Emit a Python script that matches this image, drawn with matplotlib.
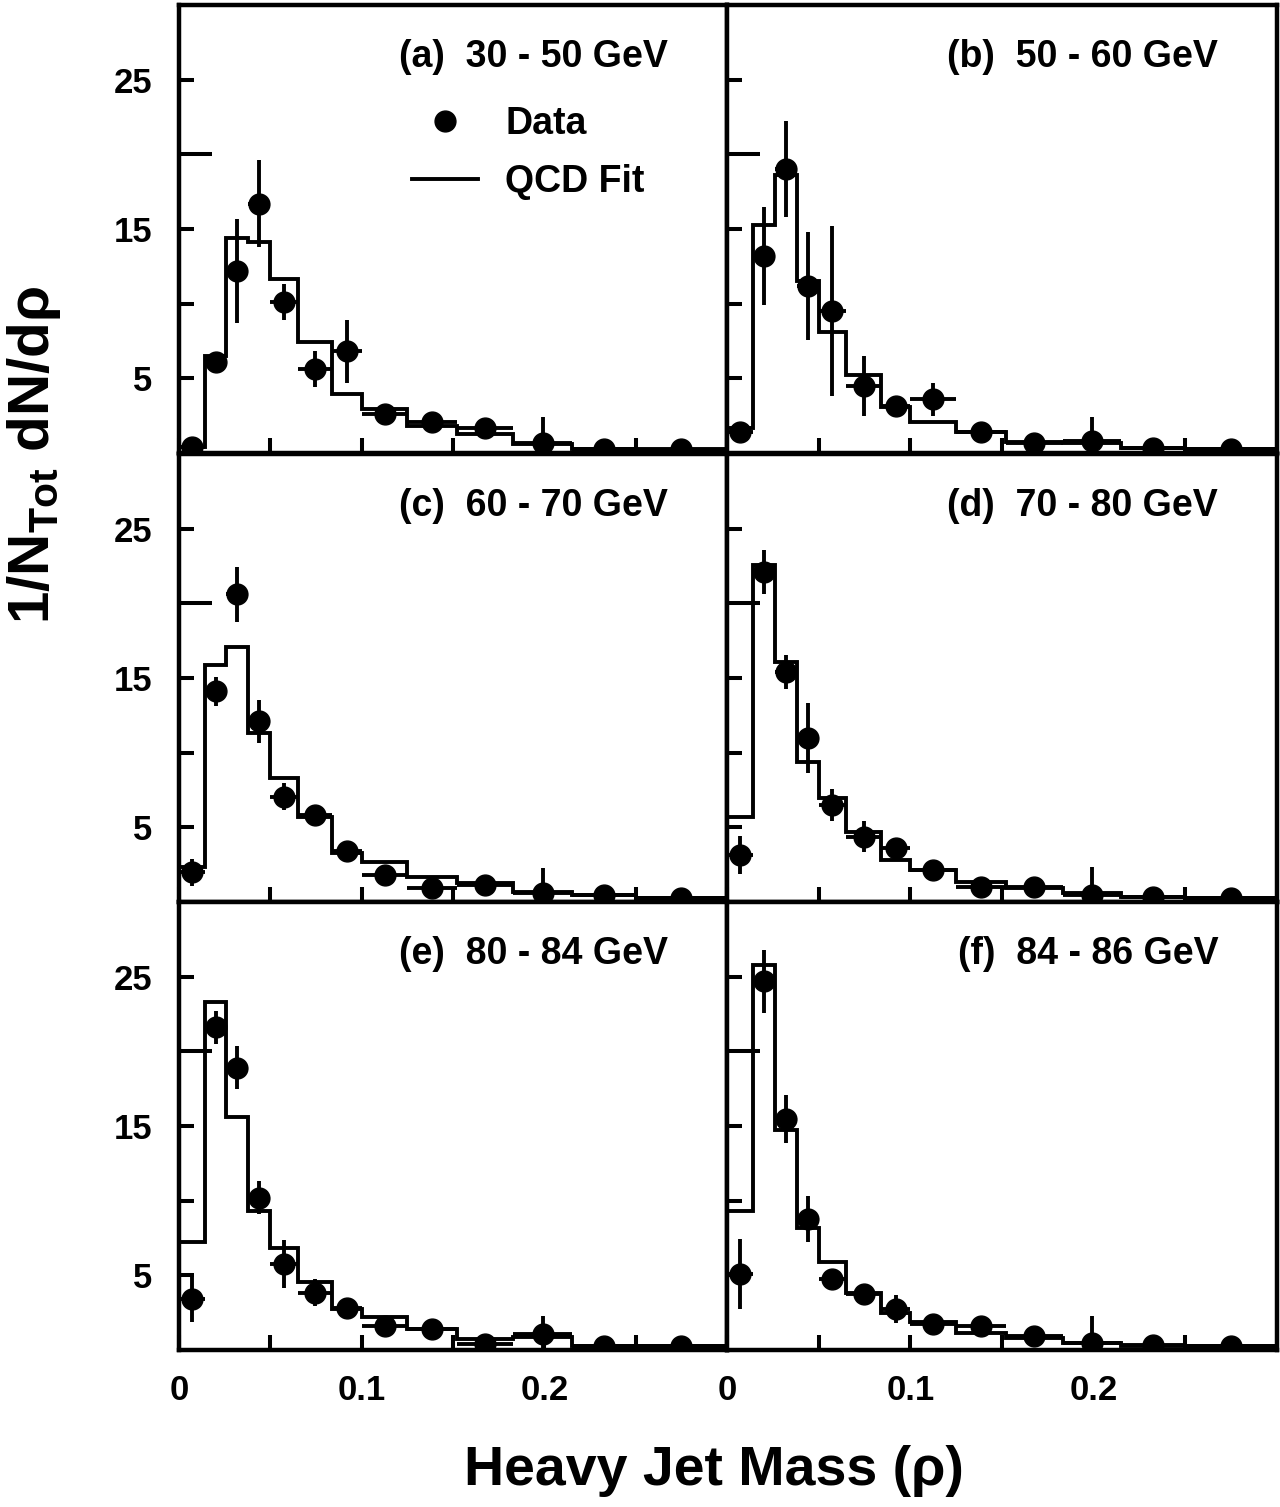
import numpy as np
import matplotlib
matplotlib.use("Agg")
import matplotlib.pyplot as plt
from matplotlib.lines import Line2D

plt.rcParams["font.family"] = ["Liberation Sans", "DejaVu Sans"]
plt.rcParams["font.weight"] = "bold"
plt.rcParams["mathtext.fontset"] = "custom"
plt.rcParams["mathtext.rm"] = "Liberation Sans:bold"
plt.rcParams["mathtext.bf"] = "Liberation Sans:bold"
plt.rcParams["mathtext.it"] = "Liberation Sans:bold"

# heavy jet mass bins (rho)
rho_edges = [0.0, 0.014, 0.026, 0.038, 0.050, 0.065, 0.084, 0.100,
             0.125, 0.152, 0.183, 0.215, 0.250, 0.300]

panel_labels = ["(a)  30 - 50 GeV", "(b)  50 - 60 GeV", "(c)  60 - 70 GeV",
                "(d)  70 - 80 GeV", "(e)  80 - 84 GeV", "(f)  84 - 86 GeV"]

data_a = [0.4, 6.1, 12.2, 16.7, 10.1, 5.6, 6.8, 2.6, 2.1, 1.7, 0.7, 0.25, 0.25]
err_a = [0.2, 0.4, 3.5, 2.9, 1.2, 1.2, 2.1, 0.3, 0.3, 0.3, 1.7, 0.1, 0.1]
fit_a = [0.4, 6.5, 14.4, 14.1, 11.65, 7.4, 3.95, 2.95, 1.8, 1.27, 0.6, 0.3, 0.15]

data_b = [1.4, 13.2, 19.0, 11.2, 9.5, 4.5, 3.15, 3.6, 1.4, 0.7, 0.8, 0.35, 0.3]
err_b = [0.3, 3.3, 3.2, 3.6, 5.7, 2.0, 0.4, 1.1, 0.3, 0.3, 1.6, 0.1, 0.1]
fit_b = [1.7, 15.3, 18.6, 11.5, 8.1, 5.2, 3.1, 2.05, 1.4, 0.75, 0.65, 0.35, 0.25]

data_c = [2.0, 14.1, 20.6, 12.1, 7.05, 5.8, 3.4, 1.8, 0.95, 1.14, 0.6, 0.47, 0.27]
err_c = [0.9, 1.0, 1.85, 1.45, 0.9, 0.4, 0.4, 0.3, 0.3, 0.3, 1.7, 0.1, 0.1]
fit_c = [2.36, 15.9, 17.1, 11.3, 8.3, 5.7, 3.3, 2.7, 1.7, 1.26, 0.69, 0.47, 0.25]

data_d = [3.15, 22.1, 15.4, 10.96, 6.5, 4.37, 3.6, 2.14, 1.03, 1.03, 0.47, 0.36, 0.25]
err_d = [1.3, 1.45, 1.15, 2.35, 1.05, 1.05, 0.4, 0.3, 0.3, 0.3, 1.9, 0.1, 0.1]
fit_d = [5.7, 22.6, 16.1, 9.4, 6.95, 4.7, 2.8, 2.14, 1.36, 0.92, 0.58, 0.36, 0.25]

data_e = [3.4, 21.6, 18.9, 10.2, 5.74, 3.84, 2.83, 1.6, 1.39, 0.38, 1.05, 0.3, 0.3]
err_e = [1.5, 1.1, 1.45, 1.1, 1.6, 0.9, 0.4, 0.3, 0.3, 0.3, 1.2, 0.1, 0.1]
fit_e = [7.2, 23.3, 15.6, 9.3, 6.8, 4.55, 2.72, 2.23, 1.39, 0.72, 0.85, 0.3, 0.25]

data_f = [5.07, 24.7, 15.45, 8.75, 4.74, 3.73, 2.73, 1.72, 1.6, 0.94, 0.49, 0.35, 0.3]
err_f = [2.35, 2.1, 1.6, 1.55, 0.4, 0.5, 0.95, 0.3, 0.3, 0.3, 1.8, 0.1, 0.1]
fit_f = [9.3, 25.8, 14.7, 8.2, 5.9, 3.84, 2.5, 1.88, 1.16, 0.83, 0.49, 0.3, 0.25]

y_ticks = [5, 10, 15, 20, 25]
y_ticklabels = ["5", "", "15", "", "25"]
x_ticks = [0.0, 0.05, 0.10, 0.15, 0.20, 0.25]
x_ticklabels = ["0", "", "0.1", "", "0.2", ""]

panels = [(data_a, err_a, fit_a), (data_b, err_b, fit_b),
          (data_c, err_c, fit_c), (data_d, err_d, fit_d),
          (data_e, err_e, fit_e), (data_f, err_f, fit_f)]

edges = np.array(rho_edges)
centers = 0.5 * (edges[1:] + edges[:-1])
half_w = 0.5 * (edges[1:] - edges[:-1])

fig = plt.figure(figsize=(12.8, 15.07), dpi=100)
W, H = 1280, 1507
col_x = [179, 727]
col_w = [548, 550]
row_top = [5, 454, 902]
row_h = 448

for i, (data, err, fit) in enumerate(panels):
    r, c = divmod(i, 2)
    ax = fig.add_axes([col_x[c] / W, 1 - (row_top[r] + row_h) / H,
                       col_w[c] / W, row_h / H])
    ax.stairs(fit, edges, baseline=None, color="k", lw=2.8, zorder=2)
    ax.errorbar(centers, data, xerr=half_w, yerr=err, fmt="o", color="k",
                ms=15, elinewidth=2.8, capsize=0, zorder=3)
    ax.set_xlim(0, 0.30)
    ax.set_ylim(0, 30)
    for s in ax.spines.values():
        s.set_linewidth(3.2)

    ax.set_yticks(y_ticks)
    ax.set_xticks(x_ticks)
    ax.tick_params(axis="both", direction="in", length=11, width=2.9,
                   labelsize=25, top=False, right=False)
    ax.tick_params(axis="y", pad=19)
    ax.tick_params(axis="x", pad=17)
    if c == 0:
        ax.set_yticklabels(y_ticklabels)
    else:
        ax.set_yticklabels([])
    if r == 2:
        ax.set_xticklabels(x_ticklabels)
    else:
        ax.set_xticklabels([])
    # the tick at 20 is drawn longer
    ax.yaxis.get_major_ticks()[3].tick1line.set_markersize(24)

    ax.text(0.893, 0.862, panel_labels[i], transform=ax.transAxes,
            ha="right", va="baseline", fontsize=27, fontweight="bold")

    if i == 0:
        handles = [Line2D([], [], marker="o", ls="none", color="k", ms=15),
                   Line2D([], [], color="k", lw=2.8)]
        ax.legend(handles, ["Data", "QCD Fit"], loc="upper left",
                  bbox_to_anchor=(0.426, 0.775), frameon=False, fontsize=27,
                  handlelength=1.76, handletextpad=0.72, labelspacing=0.59,
                  borderpad=0, borderaxespad=0)

fig.text(714 / W, 1 - 1485 / H, "Heavy Jet Mass (ρ)", ha="center",
         va="baseline", fontsize=40, fontweight="bold")
fig.text(34 / W, 1 - 455 / H, r"1/N$_{\mathbf{Tot}}$ dN/dρ", rotation=90,
         ha="center", va="center", fontsize=42, fontweight="bold")

fig.savefig("out.png", dpi=100)
